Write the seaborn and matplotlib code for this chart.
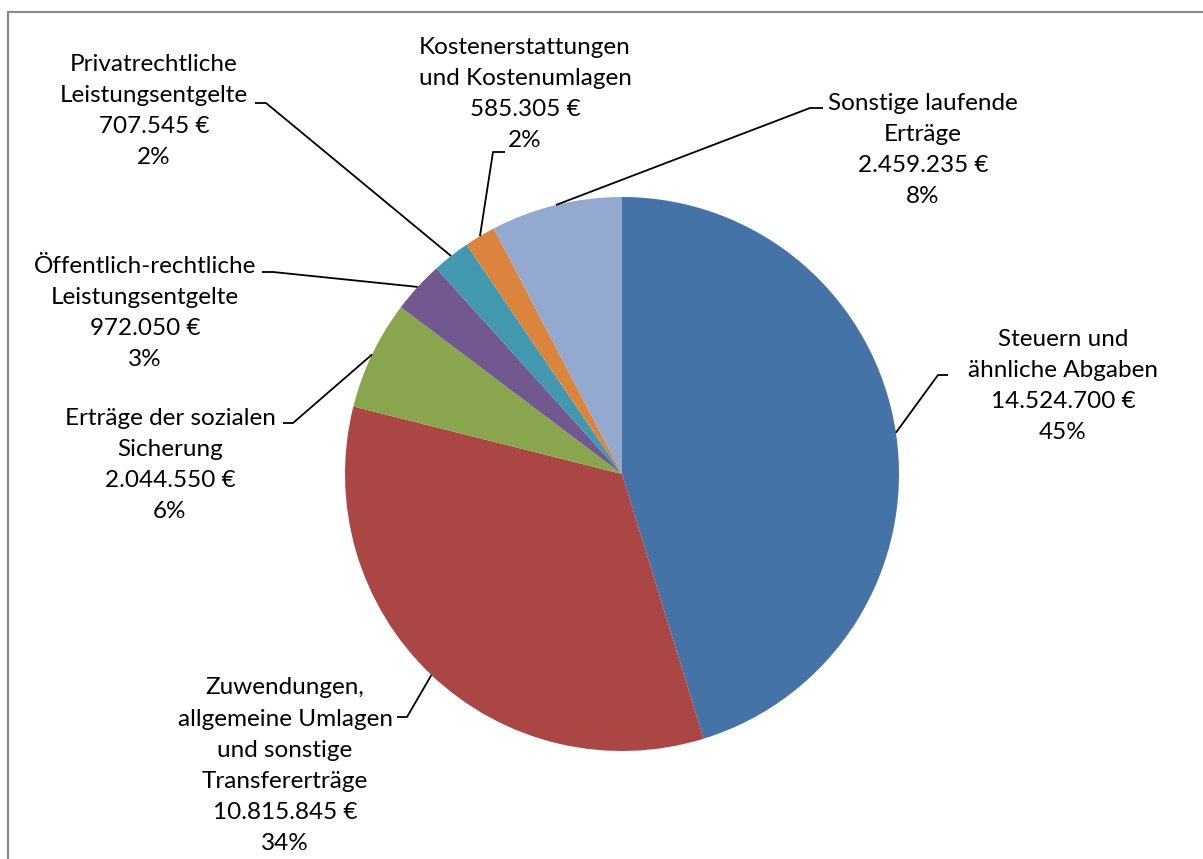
import numpy as np
import matplotlib
matplotlib.use("Agg")
import matplotlib.pyplot as plt
import seaborn as sns
from matplotlib.patches import Rectangle

sns.set_theme(style="white")
plt.rcParams['font.family'] = ['Lato', 'DejaVu Sans']

# Daten (im Uhrzeigersinn ab 12 Uhr)
kategorien = [
    "Steuern und\nähnliche Abgaben",
    "Zuwendungen,\nallgemeine Umlagen\nund sonstige\nTransfererträge",
    "Erträge der sozialen\nSicherung",
    "Öffentlich-rechtliche\nLeistungsentgelte",
    "Privatrechtliche\nLeistungsentgelte",
    "Kostenerstattungen\nund Kostenumlagen",
    "Sonstige laufende\nErträge",
]
betraege = [14524700, 10815845, 2044550, 972050, 707545, 585305, 2459235]
farben = ["#4572A7", "#AA4643", "#89A54E", "#71588F", "#4198AF", "#DB843D", "#93A9CF"]

W, H = 1203, 859
CX, CY, R = 622, 474, 277

# Beschriftungs-Layout (Bildpixel): Textmitte, Knick der Führungslinie, Ende am Text
text_pos = [(1063, 386), (285, 766), (170, 465), (145, 313), (154, 111), (525, 94), (923, 150)]
knick = [(938, 375), (407, 717), (293, 423), (273, 272), (266, 103), (493, 152), (810, 108)]
ende = [948, 397, 283, 262, 255, 505, 823]


def P(x, y):
    return x, H - y


def fmt_eur(v):
    return f"{v:,}".replace(",", ".") + " €"


fig = plt.figure(figsize=(W / 100, H / 100), dpi=100)
ax = fig.add_axes([0, 0, 1, 1])

wedges, _ = ax.pie(betraege, colors=sns.color_palette(farben), startangle=90, counterclock=False,
                   center=P(CX, CY), radius=R, wedgeprops=dict(linewidth=0))

ax.set_xlim(0, W)
ax.set_ylim(0, H)
ax.set_aspect("equal")
ax.axis("off")

# Rahmen (rechts/unten abgeschnitten)
ax.add_patch(Rectangle(P(8, 875), 1220, 863, fill=False, edgecolor="#8c8c8c", lw=1.6, clip_on=True))

gesamt = sum(betraege)
for i, w in enumerate(wedges):
    mitte = np.deg2rad((w.theta1 + w.theta2) / 2)
    rand = (CX + R * np.cos(mitte), H - CY + R * np.sin(mitte))
    kx, ky = P(*knick[i])
    ex, ey = P(ende[i], knick[i][1])
    ax.plot([rand[0], kx, ex], [rand[1], ky, ey], color="black", lw=1.3, solid_capstyle="butt")
    proz = round(100 * betraege[i] / gesamt)
    txt = f"{kategorien[i]}\n{fmt_eur(betraege[i])}\n{proz}%"
    ax.text(*P(*text_pos[i]), txt, ha="center", va="center", multialignment="center",
            fontsize=17.5, linespacing=1.6, color="black")

fig.savefig("out.png", dpi=100)
